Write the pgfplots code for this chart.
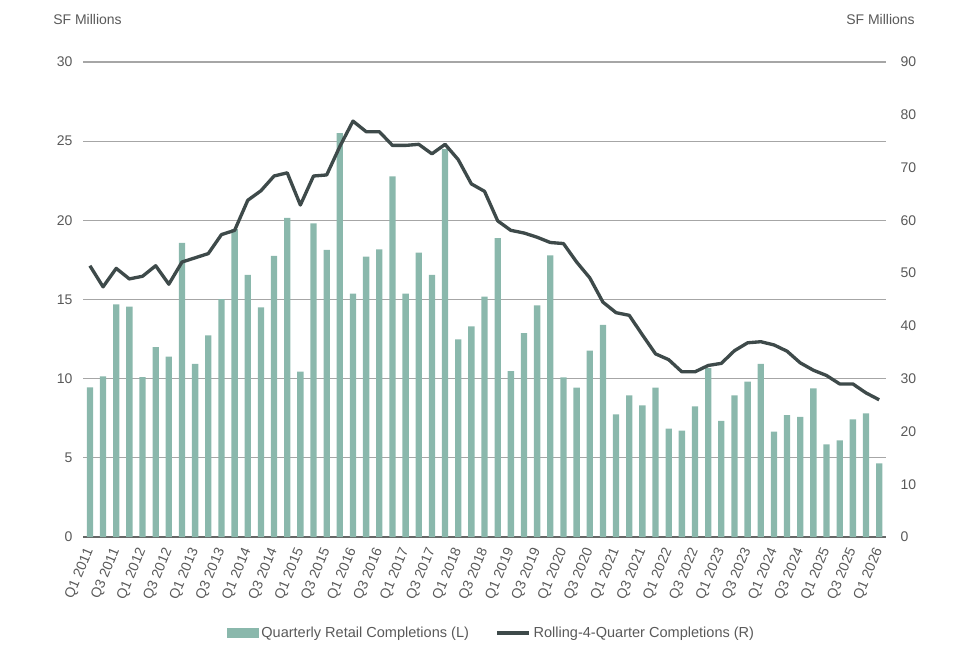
\documentclass[border=0pt]{standalone}
\usepackage{pgfplots}
\pgfplotsset{compat=1.18}
\usepackage{fontspec}
\setmainfont{Liberation Sans}
\definecolor{barcol}{HTML}{8AB8AC}
\definecolor{linecol}{HTML}{3E4A4A}
\definecolor{txtcol}{HTML}{595959}
\definecolor{gridcol}{HTML}{A6A6A6}

\pgfplotstableread{
x  bars   roll
0  9.45   51.4
1  10.15  47.4
2  14.7   50.9
3  14.55  48.9
4  10.1   49.4
5  12.0   51.4
6  11.4   47.9
7  18.57  52.1
8  10.93  52.9
9  12.74  53.7
10 15.03  57.3
11 19.45  58.1
12 16.55  63.8
13 14.5   65.6
14 17.75  68.4
15 20.15  69.0
16 10.44  62.9
17 19.8   68.4
18 18.13  68.6
19 25.5   74.0
20 15.37  78.8
21 17.7   76.8
22 18.17  76.8
23 22.78  74.2
24 15.37  74.2
25 17.96  74.4
26 16.55  72.6
27 24.5   74.4
28 12.48  71.5
29 13.3   66.9
30 15.18  65.5
31 18.88  59.9
32 10.48  58.1
33 12.88  57.6
34 14.63  56.8
35 17.79  55.8
36 10.08  55.6
37 9.43   52.1
38 11.77  49.1
39 13.39  44.5
40 7.75   42.5
41 8.95   42.0
42 8.32   38.3
43 9.43   34.7
44 6.84   33.6
45 6.72   31.3
46 8.25   31.3
47 10.67  32.5
48 7.33   32.9
49 8.95   35.3
50 9.81   36.8
51 10.93  37.0
52 6.65   36.4
53 7.7    35.2
54 7.58   33.0
55 9.39   31.6
56 5.85   30.6
57 6.1    29.0
58 7.43   29.0
59 7.81   27.3
60 4.65   26.0
}\datatable

\begin{document}
\begin{tikzpicture}[font=\fontsize{10.5}{12}\selectfont, text=txtcol]
\path[use as bounding box] (0,0) rectangle (720pt,490.5pt);

% left axis: quarterly bars
\begin{axis}[
  at={(62.5pt,87.75pt)}, anchor=south west,
  scale only axis, width=601.8pt, height=356.25pt,
  xmin=-0.5, xmax=60.5,
  ymin=0, ymax=30,
  ytick={0,5,...,30},
  xtick={0,2,...,60},
  xticklabels={Q1 2011,Q3 2011,Q1 2012,Q3 2012,Q1 2013,Q3 2013,Q1 2014,Q3 2014,Q1 2015,Q3 2015,Q1 2016,Q3 2016,Q1 2017,Q3 2017,Q1 2018,Q3 2018,Q1 2019,Q3 2019,Q1 2020,Q3 2020,Q1 2021,Q3 2021,Q1 2022,Q3 2022,Q1 2023,Q3 2023,Q1 2024,Q3 2024,Q1 2025,Q3 2025,Q1 2026},
  xticklabel style={rotate=67, anchor=east, inner sep=0pt, text=txtcol},
  xticklabel shift=9pt,
  yticklabel style={inner sep=0pt, text=txtcol, anchor=east},
  yticklabel shift=8pt,
  /pgf/number format/assume math mode=true,
  major tick length=0pt,
  axis x line*=bottom, axis y line*=left,
  x axis line style={draw=gray!80!black, line width=0.9pt, -},
  y axis line style={draw=none},
  ymajorgrids=true,
  grid style={draw=gridcol, line width=0.8pt},
  tick label style={font=\fontsize{10.5}{12}\selectfont},
  legend columns=2,
  legend style={at={(0.509,-0.202)}, anchor=center, draw=none, fill=none,
    font=\fontsize{10.9}{12}\selectfont, text=txtcol,
    /tikz/every even column/.append style={column sep=18pt},
    inner sep=0pt},
  legend cell align=left,
  clip=false,
]
\addplot[ybar, bar width=0.48, fill=barcol, draw=none,
  legend image code/.code={\fill[barcol] (0pt,-3.6pt) rectangle (24pt,3.6pt);}]
  table[x=x, y=bars] {\datatable};
\addlegendentry{Quarterly Retail Completions (L)}
\addlegendimage{line width=2.5pt, color=linecol,
  legend image code/.code={\draw[line width=2.5pt, linecol] (0pt,0pt) -- (24pt,0pt);}}
\addlegendentry{Rolling-4-Quarter Completions (R)}
\end{axis}

% right axis: rolling four quarters
\begin{axis}[
  at={(62.5pt,87.75pt)}, anchor=south west,
  scale only axis, width=601.8pt, height=356.25pt,
  xmin=-0.5, xmax=60.5,
  ymin=0, ymax=90,
  ytick={0,10,...,90},
  axis x line=none,
  axis y line*=right,
  y axis line style={draw=none},
  major tick length=0pt,
  /pgf/number format/assume math mode=true,
  yticklabel style={inner sep=0pt, text=txtcol, anchor=west},
  yticklabel shift=11pt,
  tick label style={font=\fontsize{10.5}{12}\selectfont},
]
\addplot[line width=2.5pt, color=linecol, line join=round, mark=none]
  table[x=x, y=roll] {\datatable};
\end{axis}

\node[anchor=west, inner sep=0pt, text=txtcol] at (39.75pt,475.5pt) {SF Millions};
\node[anchor=east, inner sep=0pt, text=txtcol] at (686.25pt,475.5pt) {SF Millions};
\end{tikzpicture}
\end{document}
